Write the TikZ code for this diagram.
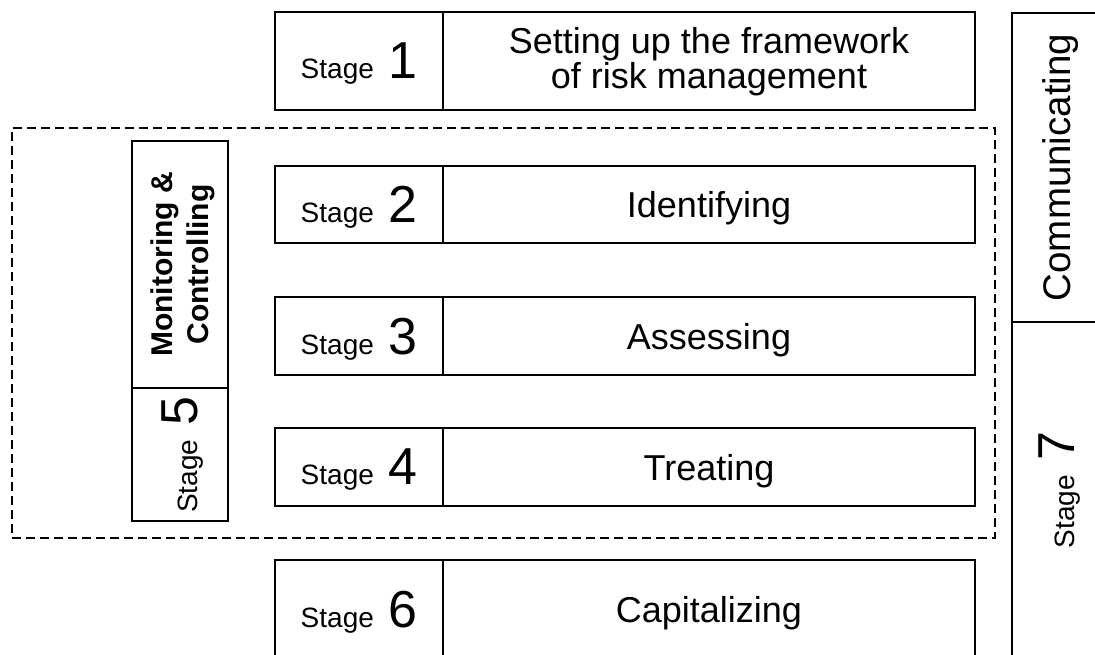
\documentclass[tikz,border=0pt]{standalone}
\usepackage{fontspec}
\setmainfont{Liberation Sans}

% "Stage" in small type followed by a large stage number
\newcommand{\stagelabel}[1]{{\fontsize{28}{30}\selectfont Stage\fontsize{52}{54}\selectfont\ #1}}

\tikzset{
  cell/.style={draw, line width=1.2pt, inner sep=0pt, text depth=0pt, anchor=center},
  stagecell/.style={cell, minimum width=168pt},
  taskcell/.style={cell, minimum width=532pt, font=\fontsize{36}{35}\selectfont, align=center},
  sidecell/.style={cell, rotate=90},
  zone/.style={draw, line width=1.6pt, dash pattern=on 9pt off 5pt, inner sep=0pt,
               minimum width=983pt, minimum height=410pt},
}

\begin{document}
\begin{tikzpicture}[x=1pt, y=-1pt]
  \clip (0,0) rectangle (1095,655);
  \fill[white] (0,0) rectangle (1095,655);

  % dashed zone around the monitored stages 2--5
  \node[zone] (zone) at (503.5,333) {};

  % stage rows
  \node[stagecell, minimum height=98pt] (s1) at (359,61) {\stagelabel{1}};
  \node[taskcell,  minimum height=98pt, text depth=7pt] (t1) at (709,61)
        {Setting up the framework\\of risk management};

  \node[stagecell, minimum height=77pt] (s2) at (359,204.5) {\stagelabel{2}};
  \node[taskcell,  minimum height=77pt] (t2) at (709,204.5) {Identifying};

  \node[stagecell, minimum height=78pt] (s3) at (359,336) {\stagelabel{3}};
  \node[taskcell,  minimum height=78pt] (t3) at (709,336) {Assessing};

  \node[stagecell, minimum height=78pt] (s4) at (359,467) {\stagelabel{4}};
  \node[taskcell,  minimum height=78pt] (t4) at (709,467) {Treating};

  \node[stagecell, minimum height=98pt] (s6) at (359,609) {\stagelabel{6}};
  \node[taskcell,  minimum height=98pt] (t6) at (709,609) {Capitalizing};

  % stage 5: monitoring and controlling
  \node[sidecell, minimum width=247pt, minimum height=96pt, align=center,
        font=\bfseries\fontsize{30}{36}\selectfont] (mc) at (180,264.5)
        {Monitoring \&\\Controlling};
  \node[sidecell, minimum width=133pt, minimum height=96pt] (s5) at (180,454.5) {\stagelabel{5}};

  % stage 7: communicating, alongside every stage
  \node[sidecell, minimum width=309pt, minimum height=90pt,
        font=\fontsize{38.5}{40}\selectfont] (com) at (1057,167.5) {Communicating};
  \node[sidecell, minimum width=336pt, minimum height=90pt] (s7) at (1057,490) {\stagelabel{7}};
\end{tikzpicture}
\end{document}
